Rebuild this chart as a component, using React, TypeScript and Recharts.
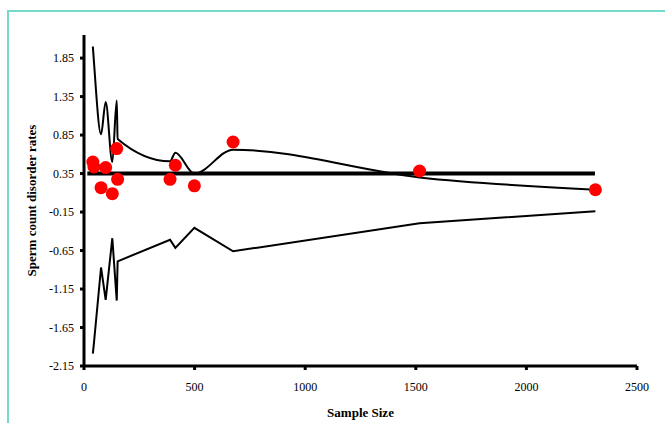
import { ComposedChart, Line, Scatter, XAxis, YAxis, Label } from 'recharts';

// study sample sizes (x) and observed rates (red dots)
const sampleSizes = [40, 45, 77, 98, 128, 148, 152, 389, 413, 499, 674, 1517, 2312];
const rates = [0.5, 0.435, 0.167, 0.428, 0.089, 0.675, 0.275, 0.275, 0.458, 0.19, 0.76, 0.383, 0.14];

// funnel limits
const upperLimits = [2.0, 1.8, 0.86, 1.28, 0.5, 1.3, 0.8, 0.51, 0.62, 0.35, 0.66, 0.3, 0.14];
const lowerLimits = [-1.99, -1.85, -0.87, -1.29, -0.49, -1.3, -0.79, -0.51, -0.615, -0.355, -0.66, -0.295, -0.14];

// pooled estimate, drawn across the studies
const pooledRate = 0.35;
const pooledRange = [15, 2310];

const xTicks = [0, 500, 1000, 1500, 2000, 2500];
const yTicks = [-2.15, -1.65, -1.15, -0.65, -0.15, 0.35, 0.85, 1.35, 1.85];

const rows = sampleSizes.map((n, i) => ({
  n,
  rate: rates[i],
  upper: upperLimits[i],
  lower: lowerLimits[i],
}));

const pooledRows = pooledRange.map((n) => ({ n, pooled: pooledRate }));

const font = { fontFamily: '"Liberation Serif", serif', fontSize: 12, fill: '#000' };
const titleFont = { ...font, fontSize: 13, fontWeight: 'bold' };

export default function App() {
  return (
    <div style={{ position: 'absolute', left: 0, top: 0, width: 665, height: 423, background: '#fff', overflow: 'hidden' }}>
      <div
        style={{
          position: 'absolute',
          left: 7,
          top: 10,
          width: 700,
          height: 500,
          borderLeft: '2px solid #74d9c9',
          borderTop: '2px solid #74d9c9',
        }}
      />
      <ComposedChart
        width={665}
        height={423}
        data={rows}
        margin={{ top: 35, right: 28, bottom: 27, left: 0 }}
        style={{ position: 'absolute', left: 0, top: 0 }}
      >
        <XAxis
          type="number"
          dataKey="n"
          domain={[0, 2500]}
          ticks={xTicks}
          height={30}
          axisLine={{ stroke: '#000', strokeWidth: 3 }}
          tickLine={{ stroke: '#000', strokeWidth: 3 }}
          tickSize={4}
          tick={font}
          tickMargin={12}
        >
          <Label value="Sample Size" position="bottom" offset={12} style={titleFont} />
        </XAxis>
        <YAxis
          type="number"
          domain={[-2.15, 2.15]}
          ticks={yTicks}
          width={84}
          axisLine={{ stroke: '#000', strokeWidth: 3 }}
          tickLine={{ stroke: '#000', strokeWidth: 3 }}
          tickSize={4}
          tick={font}
          tickMargin={6}
          tickFormatter={(v: number) => v.toFixed(2)}
        >
          <Label
            value="Sperm count disorder rates"
            angle={-90}
            position="insideLeft"
            offset={31}
            style={{ ...titleFont, textAnchor: 'middle' }}
          />
        </YAxis>
        <Line
          data={pooledRows}
          dataKey="pooled"
          type="linear"
          stroke="#000"
          strokeWidth={4}
          dot={false}
          activeDot={false}
          isAnimationActive={false}
        />
        <Line
          dataKey="upper"
          type="monotone"
          stroke="#000"
          strokeWidth={2}
          dot={false}
          activeDot={false}
          isAnimationActive={false}
        />
        <Line
          dataKey="lower"
          type="linear"
          stroke="#000"
          strokeWidth={2}
          dot={false}
          activeDot={false}
          isAnimationActive={false}
        />
        <Scatter
          dataKey="rate"
          fill="#ff0000"
          isAnimationActive={false}
          shape={(p: any) => <circle cx={p.cx} cy={p.cy} r={6.5} fill="#ff0000" />}
        />
      </ComposedChart>
    </div>
  );
}
